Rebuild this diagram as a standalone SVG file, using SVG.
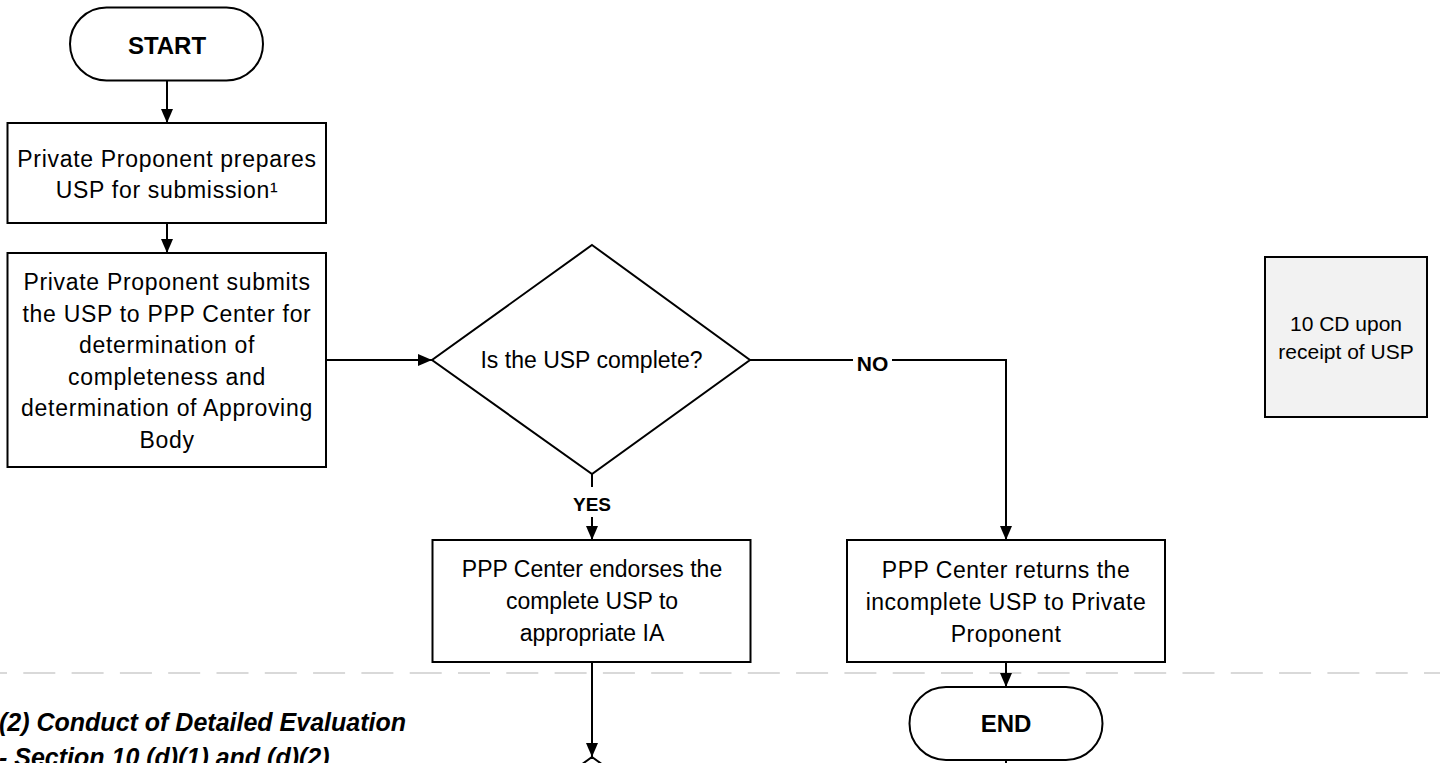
<svg xmlns="http://www.w3.org/2000/svg" width="1440" height="763" viewBox="0 0 1440 763">
  <style>
    .shape { fill: #ffffff; stroke: #000000; stroke-width: 2; }
    .note { fill: #f2f2f2; stroke: #000000; stroke-width: 2; }
    .conn { fill: none; stroke: #000000; stroke-width: 2; }
    .t { font-family: "Liberation Sans", Arial, sans-serif; font-size: 23px; fill: #000000; text-anchor: middle; }
    .sp { letter-spacing: 0.7px; }
    .term { font-family: "Liberation Sans", Arial, sans-serif; font-size: 24px; font-weight: bold; fill: #000000; text-anchor: middle; }
    .lbl { font-family: "Liberation Sans", Arial, sans-serif; font-weight: bold; fill: #000000; text-anchor: middle; }
    .small { font-family: "Liberation Sans", Arial, sans-serif; font-size: 21px; fill: #000000; text-anchor: middle; }
    .section { font-family: "Liberation Sans", Arial, sans-serif; font-size: 25px; font-weight: bold; font-style: italic; fill: #000000; }
  </style>
  <defs>
    <marker id="arrow" markerUnits="userSpaceOnUse" markerWidth="14" markerHeight="12" refX="14" refY="6" orient="auto">
      <path d="M0,0 L14,6 L0,12 Z" fill="#000000"/>
    </marker>
  </defs>

  <rect x="0" y="0" width="1440" height="763" fill="#ffffff"/>

  <!-- swimlane divider -->
  <line x1="-25" y1="673" x2="1440" y2="673" stroke="#d9d9d9" stroke-width="2" stroke-dasharray="32 16.3"/>

  <g id="connectors">
    <line class="conn" x1="167" y1="81" x2="167" y2="123" marker-end="url(#arrow)"/>
    <line class="conn" x1="167" y1="223" x2="167" y2="253" marker-end="url(#arrow)"/>
    <line class="conn" x1="326" y1="360" x2="432" y2="360" marker-end="url(#arrow)"/>
    <polyline class="conn" points="750,360 1006,360 1006,540" marker-end="url(#arrow)"/>
    <rect x="853" y="348" width="39" height="25" fill="#ffffff"/>
    <text class="lbl" x="872.5" y="371" font-size="21">NO</text>
    <line class="conn" x1="592" y1="474" x2="592" y2="540" marker-end="url(#arrow)"/>
    <rect x="570" y="487" width="44" height="30" fill="#ffffff"/>
    <text class="lbl" x="592" y="511" font-size="19">YES</text>
    <line class="conn" x1="592" y1="662" x2="592" y2="757" marker-end="url(#arrow)"/>
    <line class="conn" x1="1006" y1="662" x2="1006" y2="687" marker-end="url(#arrow)"/>
    <line class="conn" x1="1006" y1="760" x2="1006" y2="775"/>
  </g>

  <g id="start">
    <rect class="shape" x="70" y="7.5" width="193" height="73" rx="36.5" ry="36.5"/>
    <text class="term" x="167" y="54">START</text>
  </g>

  <g id="prepare">
    <rect class="shape" x="7.5" y="123" width="318.5" height="100"/>
    <text class="t sp" x="167" y="167">Private Proponent prepares</text>
    <text class="t sp" x="167" y="198">USP for submission¹</text>
  </g>

  <g id="submit">
    <rect class="shape" x="7.5" y="253" width="318.5" height="214"/>
    <text class="t sp" x="167" y="290">Private Proponent submits</text>
    <text class="t sp" x="167" y="321.5">the USP to PPP Center for</text>
    <text class="t sp" x="167" y="353">determination of</text>
    <text class="t sp" x="167" y="384.5">completeness and</text>
    <text class="t sp" x="167" y="416">determination of Approving</text>
    <text class="t sp" x="167" y="447.5">Body</text>
  </g>

  <g id="decision">
    <polygon class="shape" points="592,245 750,360 592,474 432,360"/>
    <text class="t" x="591.5" y="368">Is the USP complete?</text>
  </g>

  <g id="endorse">
    <rect class="shape" x="432.5" y="540" width="318" height="122"/>
    <text class="t" x="592" y="577">PPP Center endorses the</text>
    <text class="t" x="592" y="609">complete USP to</text>
    <text class="t" x="592" y="641">appropriate IA</text>
  </g>

  <g id="return">
    <rect class="shape" x="847" y="540" width="318" height="122"/>
    <text class="t" x="1006" y="578" style="letter-spacing:0.5px">PPP Center returns the</text>
    <text class="t" x="1006" y="610" style="letter-spacing:0.5px">incomplete USP to Private</text>
    <text class="t" x="1006" y="642" style="letter-spacing:0.5px">Proponent</text>
  </g>

  <g id="end">
    <rect class="shape" x="909.5" y="687" width="193" height="73" rx="36.5" ry="36.5"/>
    <text class="term" x="1006" y="732">END</text>
  </g>

  <g id="next-decision">
    <polygon class="shape" points="592,757 751,872 592,987 433,872"/>
  </g>

  <g id="duration">
    <rect class="note" x="1265" y="257" width="162" height="160"/>
    <text class="small" x="1346" y="331">10 CD upon</text>
    <text class="small" x="1346" y="359">receipt of USP</text>
  </g>

  <g id="section-label">
    <text class="section" x="-1" y="731">(2) Conduct of Detailed Evaluation</text>
    <text class="section" x="-1" y="766">- Section 10 (d)(1) and (d)(2)</text>
  </g>
</svg>
